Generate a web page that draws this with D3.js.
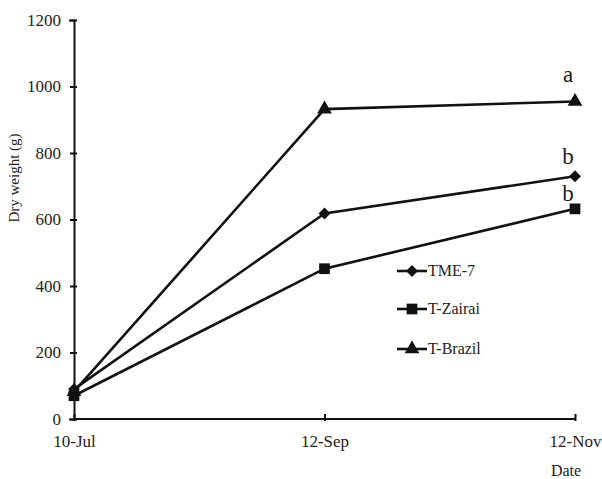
<!DOCTYPE html>
<html><head><meta charset="utf-8">
<script src="https://cdn.jsdelivr.net/npm/d3@7"></script>
<style>body{margin:0;background:#fff}svg{display:block}text{font-family:"Liberation Serif","Times New Roman",serif;fill:#222}</style>
</head><body>
<svg id="c" width="602" height="479"></svg>
<script>
const dates = ["10-Jul","12-Sep","12-Nov"];
const seriesNames = ["TME-7","T-Zairai","T-Brazil"];
const tme7 = [90, 618, 730];
const tZairai = [70, 452, 632];
const tBrazil = [82, 932, 955];
const yTicks = [0,200,400,600,800,1000,1200];
const letters = [{s:"T-Brazil",t:"a"},{s:"TME-7",t:"b"},{s:"T-Zairai",t:"b"}];

const svg = d3.select("#c");
const x = d3.scalePoint().domain(dates).range([74,575]);
const y = d3.scaleLinear().domain([0,1200]).range([419,20]);

const ya = svg.append("g").attr("transform","translate(74,0)")
  .call(d3.axisLeft(y).tickValues(yTicks).tickSize(5).tickPadding(8).tickFormat(d3.format("d")));
const xa = svg.append("g").attr("transform","translate(0,419)")
  .call(d3.axisBottom(x).tickSize(5).tickPadding(11));
[ya,xa].forEach(a=>{
  a.select(".domain").attr("stroke","#111").attr("stroke-width",2);
  a.selectAll(".tick line").attr("stroke","#111").attr("stroke-width",2);
  a.selectAll("text").style("font-size","17px").attr("fill","#222");
});
xa.select(".domain").attr("d","M74,0H575");
xa.selectAll(".tick line").attr("y1",-5).attr("y2",2);
ya.selectAll(".tick line").attr("x1",3).attr("x2",-4);

svg.append("text").attr("transform","translate(19,178) rotate(-90)").attr("text-anchor","middle")
  .style("font-size","15px").text("Dry weight  (g)");
svg.append("text").attr("x",566).attr("y",476).attr("text-anchor","middle").style("font-size","16px").text("Date");

const data = [
  {name:"TME-7", vals:tme7, shape:d3.symbolSquare, size:70, rot:45},
  {name:"T-Zairai", vals:tZairai, shape:d3.symbolSquare, size:115, rot:0},
  {name:"T-Brazil", vals:tBrazil, shape:d3.symbolTriangle, size:95, rot:0}
];
const line = d3.line().x((d,i)=>x(dates[i])).y(d=>y(d));
data.forEach(s=>{
  svg.append("path").attr("d",line(s.vals)).attr("fill","none").attr("stroke","#111").attr("stroke-width",2.6);
  s.vals.forEach((v,i)=>{
    svg.append("path").attr("d",d3.symbol().type(s.shape).size(s.size)())
      .attr("transform",`translate(${x(dates[i])},${y(v)}) rotate(${s.rot})`).attr("fill","#111");
  });
});

// significance letters
letters.forEach(l=>{
  const s = data.find(d=>d.name===l.s);
  const v = s.vals[2];
  const off = l.s==="T-Zairai" ? 8 : (l.s==="T-Brazil" ? 19 : 12);
  svg.append("text").attr("x",x(dates[2])-7).attr("y",y(v)-off).attr("text-anchor","middle")
    .style("font-size","23px").text(l.t);
});

// legend
const lg = svg.append("g");
data.forEach((s,i)=>{
  const yy = [271,309,349][i];
  lg.append("line").attr("x1",397).attr("x2",427).attr("y1",yy).attr("y2",yy).attr("stroke","#111").attr("stroke-width",2.6);
  lg.append("path").attr("d",d3.symbol().type(s.shape).size(s.size)()).attr("transform",`translate(412,${yy}) rotate(${s.rot})`).attr("fill","#111");
  lg.append("text").attr("x",428).attr("y",yy+5).style("font-size","16px").text(s.name);
});
</script>
</body></html>
